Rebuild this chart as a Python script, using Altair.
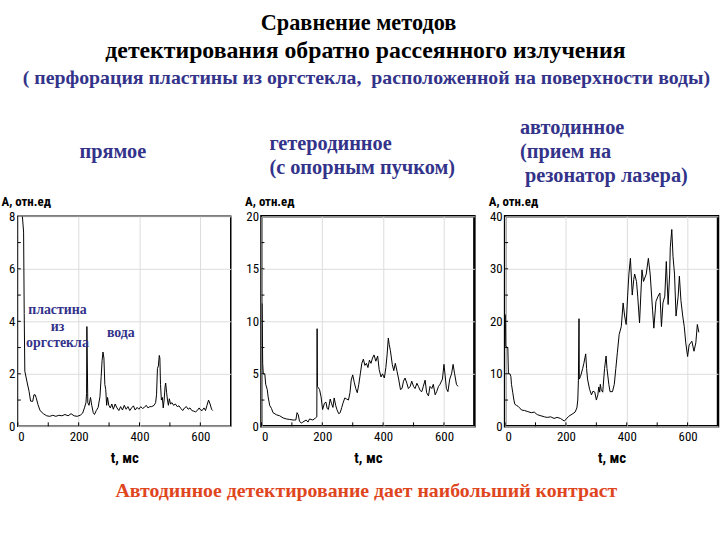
import altair as alt
import pandas as pd

# ---------------- data ----------------
T1 = [15, 19, 21, 23, 31, 37, 42, 49, 53, 57, 60, 66, 73, 84, 95, 105, 115, 125, 135, 145,
      155, 165, 175, 185, 195, 205, 213, 219, 224, 226, 227, 230, 234, 239, 243, 248, 252,
      258, 264, 270, 274, 277, 280, 283, 286, 289, 292, 295, 299, 304, 309, 314, 320, 326,
      332, 338, 344, 350, 356, 362, 368, 374, 380, 386, 392, 398, 404, 410, 416, 422, 428,
      434, 440, 448, 453, 456, 459, 462, 465, 467, 469, 472, 475, 478, 481, 484, 486, 489,
      492, 495, 498, 502, 507, 512, 518, 524, 530, 536, 542, 548, 554, 560, 566, 572, 578,
      584, 590, 596, 601, 606, 612, 617, 622, 627, 632, 637, 641]
V1 = [8.0, 7.4, 4.3, 2.1, 1.65, 1.33, 0.96, 0.95, 1.2, 1.2, 1.1, 0.84, 0.6, 0.48, 0.4, 0.38,
      0.42, 0.38, 0.42, 0.4, 0.45, 0.4, 0.48, 0.4, 0.38, 0.42, 0.5, 0.7, 0.9, 1.25, 3.8,
      0.9, 0.8, 1.1, 0.8, 0.52, 0.45, 0.6, 0.72, 1.13, 1.9, 2.5, 2.83, 2.6, 1.6, 1.4, 0.8,
      1.1, 0.8, 0.7, 0.85, 0.65, 0.85, 0.7, 0.6, 0.75, 0.62, 0.8, 0.65, 0.75, 0.6, 0.7,
      0.78, 0.62, 0.72, 0.65, 0.75, 0.68, 0.72, 0.8, 0.7, 0.75, 0.75, 0.8, 0.9, 1.2, 2.2,
      2.3, 2.7, 2.6, 1.6, 1.0, 1.1, 0.7, 1.0, 1.5, 1.65, 1.3, 1.0, 0.8, 1.05, 0.85, 0.9,
      0.8, 0.85, 0.75, 0.78, 0.68, 0.6, 0.7, 0.75, 0.65, 0.7, 0.6, 0.58, 0.55, 0.6, 0.7,
      0.62, 0.6, 0.7, 0.6, 0.8, 1.0, 0.85, 0.65, 0.6]

T2 = [2, 4, 6, 11, 14, 19, 22, 27, 33, 38, 49, 60, 71, 82, 93, 104, 113, 117, 121, 125, 131,
      136, 147, 153, 158, 169, 178, 182, 183, 184, 191, 196, 201, 207, 212, 216, 220, 226,
      230, 235, 239, 244, 248, 254, 259, 264, 268, 274, 280, 286, 291, 295, 300, 305, 310,
      315, 320, 325, 330, 335, 340, 345, 350, 355, 360, 365, 370, 376, 382, 387, 393, 398,
      404, 409, 413, 417, 420, 424, 430, 435, 440, 446, 451, 457, 462, 467, 472, 478, 483,
      489, 494, 500, 505, 511, 516, 522, 527, 532, 538, 543, 549, 554, 560, 565, 571, 576,
      582, 587, 595, 600, 604, 608, 613, 619, 625, 630, 635, 641, 646]
V2 = [11.7, 6.0, 5.0, 5.0, 4.0, 3.5, 2.8, 2.0, 1.7, 1.3, 1.1, 1.0, 0.8, 0.7, 0.65, 0.6, 0.6,
      1.3, 1.1, 0.5, 0.3, 0.4, 0.6, 0.4, 0.7, 0.6, 0.8, 0.9, 9.3, 3.8, 3.5, 2.8, 1.6, 2.2,
      2.3, 1.7, 1.6, 2.6, 2.2, 1.8, 2.7, 2.0, 1.6, 1.2, 1.3, 1.8, 2.2, 2.7, 2.6, 2.5, 3.2,
      4.4, 4.9, 4.2, 3.6, 3.2, 4.0, 5.0, 6.0, 6.4, 5.8, 6.0, 5.6, 6.3, 6.0, 6.5, 6.8, 6.2,
      6.7, 5.4, 4.7, 5.0, 4.6, 5.6, 6.8, 8.4, 7.8, 7.2, 5.9, 5.3, 6.0, 5.2, 4.5, 3.5, 3.6,
      4.3, 4.6, 4.1, 3.6, 3.8, 4.3, 3.8, 3.6, 4.1, 3.8, 3.4, 3.3, 3.8, 4.4, 3.2, 2.9, 3.8,
      3.6, 4.0, 3.0, 3.3, 3.8, 4.0, 4.5, 5.9, 4.8, 3.6, 3.3, 4.5, 5.0, 5.9, 5.0, 4.0, 3.8]

T3 = [1, 2, 9, 11, 16, 19, 21, 25, 29, 32, 37, 43, 48, 54, 64, 75, 86, 96, 102, 107, 118, 129,
      139, 150, 161, 171, 182, 187, 195, 201, 209, 220, 230, 236, 239, 241, 243, 244, 248,
      255, 259, 265, 268, 271, 278, 284, 289, 295, 300, 305, 308, 311, 313, 316, 321, 327,
      332, 335, 341, 345, 353, 359, 364, 369, 375, 382, 388, 393, 398, 403, 407, 412, 418,
      423, 426, 432, 436, 442, 450, 455, 464, 471, 477, 485, 489, 496, 503, 509, 514, 519,
      525, 530, 536, 541, 543, 548, 552, 557, 562, 569, 573, 578, 584, 589, 594, 600, 605,
      614, 621, 627, 632, 637]
V3 = [21.3, 15.2, 15.0, 10.0, 10.0, 9.5, 8.0, 6.5, 5.0, 4.2, 4.0, 3.8, 3.5, 3.1, 3.0, 2.8,
      2.6, 2.7, 2.4, 2.2, 2.0, 1.8, 1.7, 1.8, 1.5, 1.7, 1.5, 1.3, 1.0, 1.4, 1.9, 2.3, 2.7,
      3.5, 5.0, 8.8, 20.5, 9.0, 9.5, 11.0, 12.0, 13.8, 11.0, 9.0, 7.0, 6.0, 6.7, 6.5, 5.0,
      6.0, 7.5, 6.5, 8.0, 7.0, 6.5, 11.0, 13.4, 11.0, 8.0, 6.6, 6.6, 8.0, 11.0, 14.0, 17.5,
      19.0, 23.5, 21.0, 19.4, 25.0, 29.0, 32.0, 25.0, 28.0, 29.0, 27.6, 24.8, 19.7, 29.8,
      27.6, 29.0, 32.0, 29.0, 22.0, 18.7, 23.8, 24.8, 25.4, 19.0, 23.5, 24.8, 31.4, 23.2,
      29.0, 34.0, 37.5, 32.4, 29.0, 21.0, 24.8, 28.6, 24.0, 21.0, 19.0, 15.9, 13.3, 15.5,
      16.2, 14.3, 15.9, 19.4, 17.9]

X_TICKS = [0, 200, 400, 600]
X_MINOR = [0, 100, 200, 300, 400, 500, 600]
Y1_TICKS = [0, 2, 4, 6, 8]
Y1_MINOR = [1, 2, 3, 4, 5, 6, 7]
Y2_TICKS = [0, 5, 10, 15, 20]
Y2_MINOR = [2.5, 5, 7.5, 10, 12.5, 15, 17.5]
Y3_TICKS = [0, 10, 20, 30, 40]
Y3_MINOR = [5, 10, 15, 20, 25, 30, 35]

TITLE_1 = "Сравнение методов"
TITLE_2 = "детектирования обратно рассеянного излучения"
SUBTITLE = "( перфорация пластины из оргстекла,\u00a0 расположенной на поверхности воды)"
LABEL_1 = ["прямое"]
LABEL_2 = ["гетеродинное", "(с опорным пучком)"]
LABEL_3 = ["автодинное", "(прием на", "резонатор лазера)"]
NOTE_PLATE = ["пластина", "из", "оргстекла"]
NOTE_WATER = "вода"
FOOTER = "Автодинное детектирование дает наибольший контраст"
Y_TITLE = "A, отн.ед"
X_TITLE = "t, мс"

# ---------------- style ----------------
W, H = 215, 212
BLUE = "#33338a"
RED = "#e0461e"
SERIF = "Liberation Serif"
SANS = "Roboto Condensed"


def text(s, x, y, size, color, align="left", weight="bold"):
    return alt.Chart(pd.DataFrame({"s": [s]})).mark_text(
        font=SERIF, fontSize=size, fontWeight=weight, color=color,
        align=align, baseline="middle"
    ).encode(text="s:N", x=alt.value(x), y=alt.value(y))


def panel(t, v, ymax, yticks, yminor, stroke_w, extra=None):
    df = pd.DataFrame({"t": t, "v": v})
    xe = alt.X("t:Q", scale=alt.Scale(domain=[0, 700], nice=False),
               axis=alt.Axis(values=X_TICKS, title=X_TITLE, format="d", domain=False,
                             ticks=False, labelPadding=4, labelFont=SANS, labelFontSize=13,
                             labelColor="black", titleFont=SANS, titleFontSize=15,
                             titleFontWeight="bold", titleColor="black", titlePadding=8))
    ye = alt.Y("v:Q", scale=alt.Scale(domain=[0, ymax], nice=False),
               axis=alt.Axis(values=yticks, title=Y_TITLE, format="d", domain=False,
                             ticks=False, labelPadding=3, labelFont=SANS, labelFontSize=13,
                             labelColor="black", titleFont=SANS, titleFontSize=13,
                             titleFontWeight="bold", titleColor="black", titleAngle=0,
                             titleAlign="left", titleBaseline="middle", titleX=-17,
                             titleY=-15))
    line = alt.Chart(df).mark_line(color="black", strokeWidth=1, clip=True).encode(x=xe, y=ye)
    xt = alt.Chart(pd.DataFrame({"t": X_MINOR})).mark_rule(color="black", strokeWidth=1).encode(
        x=xe, y=alt.value(H - 4), y2=alt.value(H))
    yt = alt.Chart(pd.DataFrame({"v": yminor})).mark_rule(color="black", strokeWidth=1).encode(
        y=ye, x=alt.value(0), x2=alt.value(3))
    layers = [line, xt, yt] + (extra or [])
    return alt.layer(*layers).properties(
        width=W, height=H,
        view=alt.ViewBackground(stroke="black", strokeWidth=stroke_w, fill="white"))


headers = [
    text(TITLE_1, 344, -195, 22.5, "black", "center"),
    text(TITLE_2, 351, -167, 24, "black", "center"),
    text(SUBTITLE, 352, -140, 20, BLUE, "center"),
    text(LABEL_1[0], 96, -65, 20.5, BLUE, "center"),
    text(LABEL_2[0], 254, -73, 20.5, BLUE),
    text(LABEL_2[1], 254, -49, 20.5, BLUE),
    text(LABEL_3[0], 507, -89, 20.5, BLUE),
    text(LABEL_3[1], 507, -65, 20.5, BLUE),
    text(LABEL_3[2], 512, -41, 20.5, BLUE),
    text(NOTE_PLATE[0], 40, 95, 14, BLUE, "center"),
    text(NOTE_PLATE[1], 40, 112, 14, BLUE, "center"),
    text(NOTE_PLATE[2], 40, 128, 14, BLUE, "center"),
    text(NOTE_WATER, 104, 118, 14, BLUE, "center"),
    text(FOOTER, 352, 277, 20, RED, "center"),
]

p1 = panel(T1, V1, 8, Y1_TICKS, Y1_MINOR, 1.5, headers)
p2 = panel(T2, V2, 20, Y2_TICKS, Y2_MINOR, 2.5)
p3 = panel(T3, V3, 40, Y3_TICKS, Y3_MINOR, 2.5)

chart = alt.hconcat(p1, p2, p3, spacing=31, bounds="flush").properties(
    padding={"left": 0, "top": 9, "right": 0, "bottom": 0},
    background="white",
)

chart.save("out.html", embed_options={"renderer": "svg", "actions": False})
